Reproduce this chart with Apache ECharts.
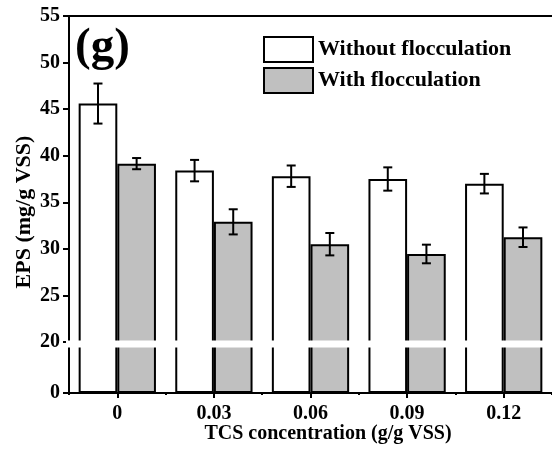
<!DOCTYPE html>
<html>
<head>
<meta charset="utf-8">
<script src="https://cdn.jsdelivr.net/npm/echarts@6/dist/echarts.min.js"></script>
<style>
html,body{margin:0;padding:0;background:#fff;}
#chart{width:552px;height:452px;}
</style>
</head>
<body>
<div id="chart"></div>
<script>
// ---- data ----
const categories = ['0', '0.03', '0.06', '0.09', '0.12'];
const seriesNames = ['Without flocculation', 'With flocculation'];
const withoutFloc = [45.6, 38.4, 37.8, 37.5, 37.0];
const withoutFlocErr = [2.15, 1.15, 1.15, 1.25, 1.05];
const withFloc = [39.15, 32.9, 30.5, 29.45, 31.25];
const withFlocErr = [0.6, 1.35, 1.2, 1.0, 1.05];
const upperTicks = [20, 25, 30, 35, 40, 45, 50, 55];
const lowerTicks = [0, 20];
const xTitle = 'TCS concentration (g/g VSS)';
const yTitle = 'EPS (mg/g VSS)';
const panelLabel = '(g)';

// ---- layout / style ----
const FONT = "'Liberation Serif', 'Times New Roman', serif";
const GL = 69, GW = 492.5;
const upperTop = 16, upperH = 326;   // bottom 342
const lowerTop = 346, lowerH = 47;   // bottom 393
const BORDER = 2;

const chart = echarts.init(document.getElementById('chart'), null, {renderer: 'canvas'});

function errData(vals, errs) {
  return vals.map((v, i) => [i, v, errs[i]]);
}
function errSeries(vals, errs, frac) {
  return {
    type: 'custom',
    xAxisIndex: 0, yAxisIndex: 0,
    z: 5,
    silent: true,
    data: errData(vals, errs),
    renderItem: function (params, api) {
      const c = api.value(0), v = api.value(1), e = api.value(2);
      const band = api.size([1, 0])[0];
      const top = api.coord([c, v + e]);
      const bot = api.coord([c, v - e]);
      const x = top[0] + frac * band;
      const cap = 4.5;
      const st = {stroke: '#000', lineWidth: 2};
      return {
        type: 'group',
        children: [
          {type: 'line', shape: {x1: x, y1: top[1], x2: x, y2: bot[1]}, style: st},
          {type: 'line', shape: {x1: x - cap, y1: top[1], x2: x + cap, y2: top[1]}, style: st},
          {type: 'line', shape: {x1: x - cap, y1: bot[1], x2: x + cap, y2: bot[1]}, style: st}
        ]
      };
    }
  };
}

const axisLabelStyle = {color: '#000', fontFamily: FONT, fontWeight: 'bold', fontSize: 20};

const option = {
  animation: false,
  backgroundColor: '#fff',
  textStyle: {fontFamily: FONT},
  grid: [
    {left: GL, top: upperTop, width: GW, height: upperH, containLabel: false},
    {left: GL, top: lowerTop, width: GW, height: lowerH, containLabel: false}
  ],
  legend: {
    orient: 'vertical',
    left: 263, top: 36, padding: 0,
    icon: 'rect',
    itemWidth: 49, itemHeight: 25, itemGap: 4,
    data: seriesNames,
    textStyle: {color: '#000', fontFamily: FONT, fontWeight: 'bold', fontSize: 22, padding: [0, 0, 0, 0]},
    selectedMode: false
  },
  xAxis: [
    { // upper grid, shows top frame line
      type: 'category', gridIndex: 0, data: categories, position: 'top',
      axisLine: {show: true, lineStyle: {color: '#000', width: BORDER}},
      axisTick: {show: false}, axisLabel: {show: false}, splitLine: {show: false}
    },
    { // lower grid, main x axis
      type: 'category', gridIndex: 1, data: categories, position: 'bottom',
      axisLine: {show: true, lineStyle: {color: '#000', width: BORDER}},
      axisTick: {show: true, alignWithLabel: true, length: 5, lineStyle: {color: '#000', width: 2}},
      axisLabel: Object.assign({margin: 11}, axisLabelStyle),
      splitLine: {show: false}
    },
    { // minor boundary ticks
      type: 'category', gridIndex: 1, data: categories, position: 'bottom',
      axisLine: {show: false},
      axisTick: {show: true, alignWithLabel: false, length: 2, lineStyle: {color: '#000', width: 2}},
      axisLabel: {show: false}, splitLine: {show: false}
    }
  ],
  yAxis: [
    {
      type: 'value', gridIndex: 0, min: upperTicks[0], max: upperTicks[upperTicks.length - 1], interval: 5,
      axisLine: {show: true, lineStyle: {color: '#000', width: BORDER}},
      axisTick: {show: true, length: 6, lineStyle: {color: '#000', width: 2}},
      axisLabel: Object.assign({margin: 9}, axisLabelStyle),
      splitLine: {show: false}
    },
    {
      type: 'value', gridIndex: 1, min: lowerTicks[0], max: lowerTicks[1], interval: 20,
      axisLine: {show: true, lineStyle: {color: '#000', width: BORDER}},
      axisTick: {show: true, length: 6, lineStyle: {color: '#000', width: 2}},
      axisLabel: Object.assign({margin: 9, showMaxLabel: false}, axisLabelStyle),
      splitLine: {show: false}
    }
  ],
  series: [
    {
      name: seriesNames[0], type: 'bar', xAxisIndex: 0, yAxisIndex: 0,
      data: withoutFloc, barGap: '0%', barCategoryGap: '20%',
      itemStyle: {color: '#ffffff', borderColor: '#000', borderWidth: BORDER}
    },
    {
      name: seriesNames[1], type: 'bar', xAxisIndex: 0, yAxisIndex: 0,
      data: withFloc, barGap: '0%', barCategoryGap: '20%',
      itemStyle: {color: '#c0c0c0', borderColor: '#000', borderWidth: BORDER}
    },
    {
      name: seriesNames[0], type: 'bar', xAxisIndex: 1, yAxisIndex: 1,
      data: withoutFloc, barGap: '0%', barCategoryGap: '20%',
      itemStyle: {color: '#ffffff', borderColor: '#000', borderWidth: BORDER}
    },
    {
      name: seriesNames[1], type: 'bar', xAxisIndex: 1, yAxisIndex: 1,
      data: withFloc, barGap: '0%', barCategoryGap: '20%',
      itemStyle: {color: '#c0c0c0', borderColor: '#000', borderWidth: BORDER}
    },
    errSeries(withoutFloc, withoutFlocErr, -0.2),
    errSeries(withFloc, withFlocErr, 0.2)
  ],
  graphic: [
    { // axis break band
      type: 'rect', z: 100, silent: true,
      shape: {x: GL - 3, y: upperTop + upperH - 1.5, width: 560, height: lowerTop - upperTop - upperH + 3},
      style: {fill: '#fff'}
    },
    {
      type: 'text', z: 101, left: 75, top: 24,
      style: {text: panelLabel, font: 'bold 47px ' + FONT, fill: '#000'}
    },
    {
      type: 'text', z: 101, x: 24, y: 212, rotation: Math.PI / 2,
      style: {text: yTitle, font: 'bold 22px ' + FONT, fill: '#000', align: 'center', verticalAlign: 'middle'}
    },
    {
      type: 'text', z: 101, x: 328, y: 434,
      style: {text: xTitle, font: 'bold 20px ' + FONT, fill: '#000', align: 'center', verticalAlign: 'middle'}
    }
  ]
};
chart.setOption(option);
</script>
</body>
</html>
